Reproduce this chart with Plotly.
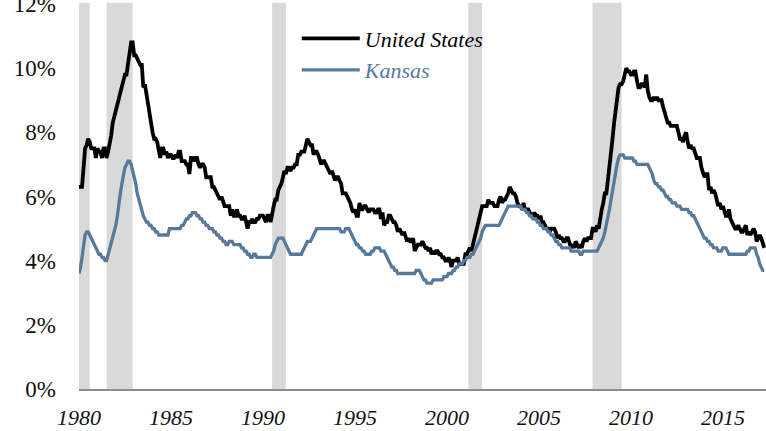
import pandas as pd
import plotly.graph_objects as go

# Monthly unemployment rate (%), Jan 1980 - Apr 2017
start_month = "1980-01-01"

us_rate = [
    6.3, 6.3, 6.3, 6.9, 7.5, 7.6, 7.8, 7.7, 7.5, 7.5, 7.5, 7.2,   # 1980
    7.5, 7.4, 7.4, 7.2, 7.5, 7.5, 7.2, 7.4, 7.6, 7.9, 8.3, 8.5,   # 1981
    8.6, 8.9, 9.0, 9.3, 9.4, 9.6, 9.8, 9.8, 10.1, 10.4, 10.8, 10.8,  # 1982
    10.4, 10.4, 10.3, 10.2, 10.1, 10.1, 9.4, 9.5, 9.2, 8.8, 8.5, 8.3,  # 1983
    8.0, 7.8, 7.8, 7.7, 7.4, 7.2, 7.5, 7.5, 7.3, 7.4, 7.2, 7.3,   # 1984
    7.3, 7.2, 7.2, 7.3, 7.2, 7.4, 7.4, 7.1, 7.1, 7.1, 7.0, 7.0,   # 1985
    6.7, 7.2, 7.2, 7.1, 7.2, 7.2, 7.0, 6.9, 7.0, 7.0, 6.9, 6.6,   # 1986
    6.6, 6.6, 6.6, 6.3, 6.3, 6.2, 6.1, 6.0, 5.9, 6.0, 5.8, 5.7,   # 1987
    5.7, 5.7, 5.7, 5.4, 5.6, 5.4, 5.4, 5.6, 5.4, 5.4, 5.3, 5.3,   # 1988
    5.4, 5.2, 5.0, 5.2, 5.2, 5.3, 5.2, 5.2, 5.3, 5.3, 5.4, 5.4,   # 1989
    5.4, 5.3, 5.2, 5.4, 5.4, 5.2, 5.5, 5.7, 5.9, 5.9, 6.2, 6.3,   # 1990
    6.4, 6.6, 6.8, 6.7, 6.9, 6.9, 6.8, 6.9, 6.9, 7.0, 7.0, 7.3,   # 1991
    7.3, 7.4, 7.4, 7.4, 7.6, 7.8, 7.7, 7.6, 7.6, 7.3, 7.4, 7.4,   # 1992
    7.3, 7.1, 7.0, 7.1, 7.1, 7.0, 6.9, 6.8, 6.7, 6.8, 6.6, 6.5,   # 1993
    6.6, 6.6, 6.5, 6.4, 6.1, 6.1, 6.1, 6.0, 5.9, 5.8, 5.6, 5.5,   # 1994
    5.6, 5.4, 5.4, 5.8, 5.6, 5.6, 5.7, 5.7, 5.6, 5.5, 5.6, 5.6,   # 1995
    5.6, 5.5, 5.5, 5.6, 5.6, 5.3, 5.5, 5.1, 5.2, 5.2, 5.4, 5.4,   # 1996
    5.3, 5.2, 5.2, 5.1, 4.9, 5.0, 4.9, 4.8, 4.9, 4.7, 4.6, 4.7,   # 1997
    4.6, 4.6, 4.7, 4.3, 4.4, 4.5, 4.5, 4.5, 4.6, 4.5, 4.4, 4.4,   # 1998
    4.3, 4.4, 4.2, 4.3, 4.2, 4.3, 4.3, 4.2, 4.2, 4.1, 4.1, 4.0,   # 1999
    4.0, 4.1, 4.0, 3.8, 4.0, 4.0, 4.0, 4.1, 3.9, 3.9, 3.9, 3.9,   # 2000
    4.2, 4.2, 4.3, 4.4, 4.3, 4.5, 4.6, 4.9, 5.0, 5.3, 5.5, 5.7,   # 2001
    5.7, 5.7, 5.7, 5.9, 5.8, 5.8, 5.8, 5.7, 5.7, 5.7, 5.9, 6.0,   # 2002
    5.8, 5.9, 5.9, 6.0, 6.1, 6.3, 6.2, 6.1, 6.1, 6.0, 5.8, 5.7,   # 2003
    5.7, 5.6, 5.8, 5.6, 5.6, 5.6, 5.5, 5.4, 5.4, 5.5, 5.4, 5.4,   # 2004
    5.3, 5.4, 5.2, 5.2, 5.1, 5.0, 5.0, 4.9, 5.0, 5.0, 5.0, 4.9,   # 2005
    4.7, 4.8, 4.7, 4.7, 4.6, 4.6, 4.7, 4.7, 4.5, 4.4, 4.5, 4.4,   # 2006
    4.6, 4.5, 4.4, 4.5, 4.4, 4.6, 4.7, 4.6, 4.7, 4.7, 4.7, 5.0,   # 2007
    5.0, 4.9, 5.1, 5.0, 5.4, 5.6, 5.8, 6.1, 6.1, 6.5, 6.8, 7.3,   # 2008
    7.8, 8.3, 8.7, 9.0, 9.4, 9.5, 9.5, 9.6, 9.8, 10.0, 9.9, 9.9,  # 2009
    9.8, 9.8, 9.9, 9.9, 9.6, 9.4, 9.4, 9.5, 9.5, 9.4, 9.8, 9.3,   # 2010
    9.1, 9.0, 9.0, 9.1, 9.0, 9.1, 9.0, 9.0, 9.0, 8.8, 8.6, 8.5,   # 2011
    8.3, 8.3, 8.2, 8.2, 8.2, 8.2, 8.2, 8.0, 7.8, 7.8, 7.7, 7.9,   # 2012
    8.0, 7.7, 7.5, 7.6, 7.5, 7.5, 7.3, 7.2, 7.2, 7.2, 6.9, 6.7,   # 2013
    6.6, 6.7, 6.7, 6.2, 6.3, 6.1, 6.2, 6.1, 5.9, 5.7, 5.8, 5.6,   # 2014
    5.7, 5.5, 5.4, 5.4, 5.6, 5.3, 5.2, 5.1, 5.0, 5.0, 5.1, 5.0,   # 2015
    4.9, 4.9, 5.0, 5.1, 4.8, 4.9, 4.8, 4.9, 5.0, 4.9, 4.6, 4.7,   # 2016
    4.8, 4.7, 4.5, 4.4,                                           # 2017
]

ks_rate = [
    3.6, 3.8, 4.1, 4.5, 4.8, 4.9, 4.9, 4.8, 4.7, 4.6, 4.5, 4.4,   # 1980
    4.3, 4.2, 4.2, 4.1, 4.1, 4.0, 4.0, 4.2, 4.3, 4.5, 4.7, 4.9,   # 1981
    5.1, 5.4, 5.8, 6.1, 6.4, 6.7, 6.9, 7.0, 7.1, 7.1, 7.0, 6.8,   # 1982
    6.6, 6.4, 6.1, 5.9, 5.7, 5.5, 5.4, 5.3, 5.2, 5.2, 5.1, 5.1,   # 1983
    5.0, 5.0, 4.9, 4.9, 4.8, 4.8, 4.8, 4.8, 4.8, 4.8, 4.8, 5.0,   # 1984
    5.0, 5.0, 5.0, 5.0, 5.0, 5.0, 5.0, 5.1, 5.1, 5.2, 5.3, 5.3,   # 1985
    5.4, 5.4, 5.5, 5.5, 5.5, 5.4, 5.4, 5.3, 5.3, 5.2, 5.2, 5.1,   # 1986
    5.1, 5.0, 5.0, 5.0, 4.9, 4.9, 4.8, 4.8, 4.7, 4.7, 4.6, 4.6,   # 1987
    4.5, 4.5, 4.6, 4.6, 4.6, 4.5, 4.5, 4.5, 4.5, 4.5, 4.4, 4.4,   # 1988
    4.3, 4.3, 4.2, 4.2, 4.1, 4.1, 4.2, 4.2, 4.1, 4.1, 4.1, 4.1,   # 1989
    4.1, 4.1, 4.1, 4.1, 4.1, 4.1, 4.2, 4.3, 4.5, 4.6, 4.7, 4.7,   # 1990
    4.7, 4.7, 4.6, 4.5, 4.4, 4.3, 4.2, 4.2, 4.2, 4.2, 4.2, 4.2,   # 1991
    4.2, 4.2, 4.3, 4.4, 4.5, 4.6, 4.6, 4.6, 4.7, 4.8, 4.9, 5.0,   # 1992
    5.0, 5.0, 5.0, 5.0, 5.0, 5.0, 5.0, 5.0, 5.0, 5.0, 5.0, 5.0,   # 1993
    5.0, 5.0, 5.0, 4.9, 4.9, 4.9, 5.0, 5.0, 5.0, 4.9, 4.8, 4.7,   # 1994
    4.6, 4.5, 4.5, 4.4, 4.4, 4.3, 4.3, 4.2, 4.2, 4.2, 4.2, 4.3,   # 1995
    4.3, 4.4, 4.4, 4.4, 4.4, 4.3, 4.3, 4.3, 4.2, 4.1, 4.0, 3.9,   # 1996
    3.8, 3.8, 3.7, 3.7, 3.6, 3.6, 3.6, 3.6, 3.6, 3.6, 3.6, 3.6,   # 1997
    3.6, 3.6, 3.6, 3.6, 3.7, 3.7, 3.7, 3.6, 3.5, 3.4, 3.4, 3.3,   # 1998
    3.3, 3.3, 3.3, 3.4, 3.4, 3.4, 3.4, 3.4, 3.4, 3.4, 3.5, 3.5,   # 1999
    3.5, 3.6, 3.6, 3.6, 3.7, 3.7, 3.8, 3.8, 3.9, 3.9, 3.9, 4.0,   # 2000
    4.0, 4.1, 4.1, 4.1, 4.2, 4.2, 4.3, 4.4, 4.5, 4.6, 4.7, 4.9,   # 2001
    5.0, 5.1, 5.1, 5.1, 5.1, 5.1, 5.1, 5.1, 5.1, 5.1, 5.1, 5.2,   # 2002
    5.3, 5.4, 5.5, 5.6, 5.7, 5.7, 5.7, 5.7, 5.7, 5.7, 5.7, 5.7,   # 2003
    5.7, 5.6, 5.6, 5.6, 5.5, 5.5, 5.4, 5.4, 5.3, 5.3, 5.3, 5.2,   # 2004
    5.2, 5.1, 5.1, 5.0, 5.0, 5.0, 4.9, 4.9, 4.8, 4.8, 4.7, 4.6,   # 2005
    4.6, 4.5, 4.5, 4.4, 4.4, 4.4, 4.4, 4.4, 4.4, 4.3, 4.3, 4.3,   # 2006
    4.3, 4.3, 4.3, 4.2, 4.2, 4.3, 4.3, 4.3, 4.3, 4.3, 4.3, 4.3,   # 2007
    4.3, 4.3, 4.3, 4.4, 4.5, 4.6, 4.7, 4.9, 5.1, 5.3, 5.6, 5.9,   # 2008
    6.2, 6.5, 6.8, 7.0, 7.2, 7.3, 7.3, 7.3, 7.2, 7.2, 7.2, 7.2,   # 2009
    7.2, 7.2, 7.1, 7.1, 7.0, 7.0, 7.0, 7.0, 7.0, 7.0, 7.0, 7.0,   # 2010
    6.9, 6.8, 6.7, 6.5, 6.4, 6.4, 6.3, 6.3, 6.2, 6.2, 6.1, 6.0,   # 2011
    6.0, 5.9, 5.9, 5.8, 5.8, 5.8, 5.7, 5.7, 5.7, 5.6, 5.6, 5.6,   # 2012
    5.6, 5.6, 5.5, 5.5, 5.4, 5.4, 5.3, 5.2, 5.1, 5.0, 4.9, 4.8,   # 2013
    4.7, 4.7, 4.6, 4.6, 4.5, 4.5, 4.4, 4.4, 4.4, 4.3, 4.3, 4.3,   # 2014
    4.4, 4.4, 4.4, 4.3, 4.2, 4.2, 4.2, 4.2, 4.2, 4.2, 4.2, 4.2,   # 2015
    4.2, 4.2, 4.2, 4.2, 4.3, 4.3, 4.4, 4.4, 4.4, 4.4, 4.2, 4.1,   # 2016
    3.9, 3.8, 3.7, 3.7,                                           # 2017
]

# NBER recessions
recession_start = ["1980-01-01", "1981-07-01", "1990-07-01", "2001-03-01", "2007-12-01"]
recession_end = ["1980-07-31", "1982-11-30", "1991-03-31", "2001-11-30", "2009-06-30"]

series_names = ["United States", "Kansas"]
x_ticks = ["1980", "1985", "1990", "1995", "2000", "2005", "2010", "2015"]
y_ticks = [0, 2, 4, 6, 8, 10, 12]

US_COLOR = "#000000"
KS_COLOR = "#57799a"
SERIF = "Liberation Serif"

dates = pd.date_range(start_month, periods=len(us_rate), freq="MS")

fig = go.Figure()
fig.add_trace(go.Scatter(
    x=dates, y=us_rate, mode="lines", name=series_names[0],
    line=dict(color=US_COLOR, width=3.8),
))
fig.add_trace(go.Scatter(
    x=dates, y=ks_rate, mode="lines",
    name=f"<span style='color:{KS_COLOR}'>{series_names[1]}</span>",
    line=dict(color=KS_COLOR, width=3.3),
))

for s, e in zip(recession_start, recession_end):
    fig.add_shape(type="rect", xref="x", yref="y domain", x0=s, x1=e, y0=0, y1=1.003,
                  fillcolor="#d9d9d9", opacity=1, line_width=0, layer="below")

fig.update_layout(
    width=766, height=431,
    margin=dict(l=79, r=0, t=4, b=42, autoexpand=False),
    paper_bgcolor="white", plot_bgcolor="white",
    font=dict(family=SERIF, size=22, color="#1a1a1a"),
    showlegend=True,
    legend=dict(
        x=0.317, y=0.965, xanchor="left", yanchor="top",
        bgcolor="rgba(0,0,0,0)", borderwidth=0,
        font=dict(family=SERIF, size=22, color="#000000", style="italic"),
        itemwidth=58, tracegroupgap=0,
    ),
    xaxis=dict(
        type="date", automargin=False,
        range=["1980-01-01", "2017-05-06"],
        tickmode="array",
        tickvals=[f"{t}-01-01" for t in x_ticks],
        ticktext=[f"<i>{t}</i>" for t in x_ticks],
        tickfont=dict(family=SERIF, size=22, style="italic", color="#111111"),
        showgrid=False, zeroline=False,
        showline=True, linecolor="#8c8c8c", linewidth=2,
        ticks="", ticklabelstandoff=8, ticklabeloverflow="allow",
    ),
    yaxis=dict(
        automargin=False,
        range=[0, 12],
        tickmode="array",
        tickvals=y_ticks,
        ticktext=[f"{v}%" for v in y_ticks],
        tickfont=dict(family=SERIF, size=23, color="#111111"),
        showgrid=False, zeroline=False, showline=False,
        ticks="", ticklabelstandoff=22, ticklabeloverflow="allow",
    ),
)

fig.write_html(
    "out.html",
    config={"displayModeBar": False},
    post_script="document.body.style.margin='0';document.body.style.padding='0';",
)
